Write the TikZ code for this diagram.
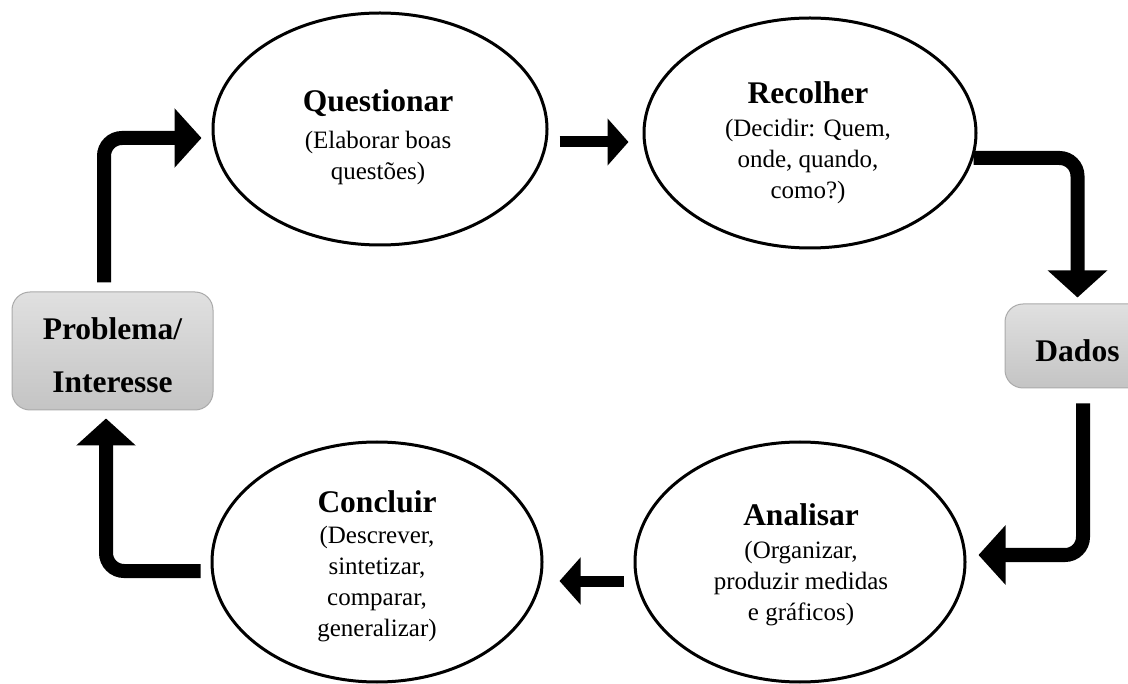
\documentclass[tikz,border=0pt]{standalone}
\usepackage{fontspec}
\setmainfont{Liberation Serif}
\usetikzlibrary{arrows.meta,shapes.geometric}
\definecolor{boxtop}{RGB}{224,224,224}
\definecolor{boxbot}{RGB}{196,196,196}
\definecolor{boxline}{RGB}{170,170,170}
\begin{document}
\begin{tikzpicture}[x=1pt,y=-1pt,
  oval/.style={ellipse, draw, line width=3pt, inner sep=0pt},
  gbox/.style={draw=boxline, line width=1pt, rounded corners=18pt, top color=boxtop, bottom color=boxbot, inner sep=0pt},
  btxt/.style={font=\fontsize{31.5}{53}\selectfont\bfseries, align=center, inner sep=0pt},
  lbl/.style={align=center, font=\fontsize{25}{31}\selectfont, inner sep=0pt},
  bigarrow/.style={line width=14pt, rounded corners=18pt, -{Triangle[length=27pt,width=58pt]}},
  smallarrow/.style={line width=11pt, -{Triangle[length=21pt,width=46pt]}}
]
\clip (0,0) rectangle (1128,684);
% ellipses
\node[oval, minimum width=334pt, minimum height=232pt] (quest) at (380,129) {};
\node[oval, minimum width=332pt, minimum height=230pt] (rec) at (810,133) {};
\node[oval, minimum width=330pt, minimum height=240pt] (concl) at (377,562) {};
\node[oval, minimum width=330pt, minimum height=240pt] (anal) at (800,562) {};
% boxes
\node[gbox, minimum width=201pt, minimum height=118pt] (prob) at (112.5,351) {};
\node[btxt] (probtxt) at ([yshift=-4pt]prob.center) {Problema/\\Interesse};
\node[gbox, minimum width=145pt, minimum height=84pt] (dados) at (1077.5,346) {};
\node[btxt] (dadostxt) at ([yshift=-5pt]dados.center) {Dados};
% texts
\node[lbl] (qtxt) at (378,137) {{\fontsize{31.5}{38}\selectfont\bfseries Questionar}\\[6pt](Elaborar boas\\questões)};
\node[lbl] (rtxt) at (808,143) {{\fontsize{31.5}{38}\selectfont\bfseries Recolher}\\[2pt](Decidir: Quem,\\onde, quando,\\como?)};
\begin{scope}
\clip (0,0) rectangle (1128,641);
\node[lbl] (ctxt) at (377,566) {{\fontsize{31.5}{38}\selectfont\bfseries Concluir}\\(Descrever,\\sintetizar,\\comparar,\\generalizar)};
\end{scope}
\node[lbl] (atxt) at (801,565) {{\fontsize{31.5}{38}\selectfont\bfseries Analisar}\\[2pt](Organizar,\\produzir medidas\\e gráficos)};
% arrows
\draw[bigarrow] ([xshift=-8.5pt,yshift=9pt]prob.north) |- ([xshift=-10pt,yshift=-9pt]quest.west);
\draw[smallarrow] ([xshift=11pt,yshift=-13pt]quest.east) -- ([xshift=-14pt,yshift=-9pt]rec.west);
\draw[bigarrow] ([xshift=-4pt,yshift=-25pt]rec.east) -| ([yshift=6pt]dados.north);
\draw[bigarrow] ([xshift=5.5pt,yshift=-15pt]dados.south) |- ([xshift=12pt,yshift=7pt]anal.east);
\draw[smallarrow] ([xshift=-10pt,yshift=-19pt]anal.west) -- ([xshift=16pt,yshift=-19pt]concl.east);
\draw[bigarrow] ([xshift=-10pt,yshift=-9pt]concl.west) -| ([xshift=-6.5pt,yshift=-8pt]prob.south);
\end{tikzpicture}
\end{document}
